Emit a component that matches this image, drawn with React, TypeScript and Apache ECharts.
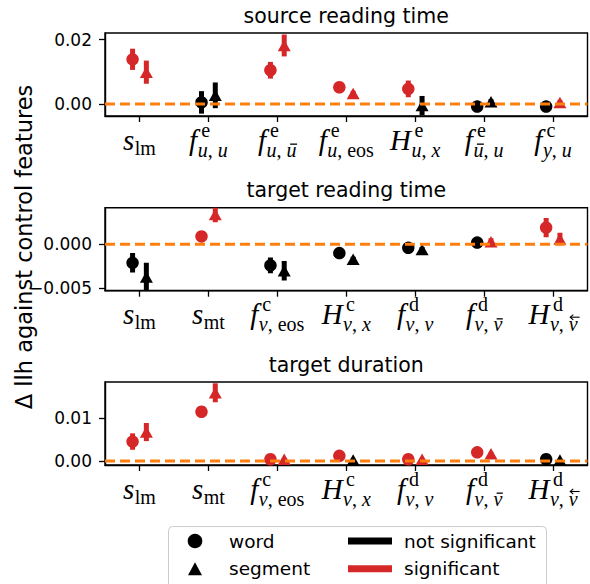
import React, { useEffect, useRef } from "react";
import * as echarts from "echarts";

// ---------- data ----------
const panelTitles = ["source reading time", "target reading time", "target duration"];

// category labels: [main symbol, superscript, subscript]
const srcCats = [
  ["s", "", "lm"],
  ["f", "e", "u, u"],
  ["f", "e", "u, u\u0304"],
  ["f", "e", "u, eos"],
  ["H", "e", "u, x"],
  ["f", "e", "u\u0304, u"],
  ["f", "c", "y, u"],
];
const tgtCats = [
  ["s", "", "lm"],
  ["s", "", "mt"],
  ["f", "c", "v, eos"],
  ["H", "c", "v, x"],
  ["f", "d", "v, v"],
  ["f", "d", "v, v\u0304"],
  ["H", "d", "v, v\u20D6"],
];

// source reading time
const srcWordVal = [0.0139, 0.0005, 0.0105, 0.0052, 0.0047, -0.0008, -0.0008];
const srcWordErr = [0.0033, 0.0035, 0.0026, 0.0010, 0.0026, 0.0007, 0.0006];
const srcWordSig = [1, 0, 1, 1, 1, 0, 0];
const srcSegVal = [0.0099, 0.0027, 0.0182, 0.0033, -0.0005, 0.0007, 0.0005];
const srcSegErr = [0.0036, 0.0040, 0.0034, 0.0008, 0.0030, 0.0008, 0.0007];
const srcSegSig = [1, 0, 1, 1, 0, 0, 1];

// target reading time
const trtWordVal = [-0.0021, 0.0009, -0.0024, -0.0010, -0.0004, 0.0002, 0.0019];
const trtWordErr = [0.0011, 0.0003, 0.0009, 0.0003, 0.0003, 0.0003, 0.0011];
const trtWordSig = [0, 1, 0, 0, 0, 0, 1];
const trtSegVal = [-0.0037, 0.0034, -0.0030, -0.0017, -0.0006, 0.0003, 0.0006];
const trtSegErr = [0.0016, 0.0009, 0.0011, 0.0003, 0.0003, 0.0004, 0.0007];
const trtSegSig = [0, 1, 0, 0, 0, 1, 1];

// target duration
const tdWordVal = [0.0045, 0.0114, 0.0004, 0.0012, 0.0004, 0.0020, 0.0004];
const tdWordErr = [0.0019, 0.0006, 0.0003, 0.0003, 0.0003, 0.0004, 0.0003];
const tdWordSig = [1, 1, 1, 1, 1, 1, 0];
const tdSegVal = [0.0067, 0.0158, 0.0004, 0.0002, 0.0004, 0.0017, 0.0002];
const tdSegErr = [0.0021, 0.0022, 0.0003, 0.0003, 0.0003, 0.0003, 0.0003];
const tdSegSig = [1, 1, 1, 0, 1, 1, 0];

const yTicks = [[0, 0.02], [-0.005, 0], [0, 0.01]];
const yTickLabels = [["0.00", "0.02"], ["\u22120.005", "0.000"], ["0.00", "0.01"]];
const yLimits = [[-0.00373, 0.02208], [-0.00527, 0.00416], [-0.00093, 0.0183]];

const legendMarkers = ["word", "segment"];
const legendColors = ["not significant", "significant"];

// ---------- style ----------
const RED = "#d62728";
const BLACK = "#000000";
const ORANGE = "#ff7f0e";
const SANS = '"DejaVu Sans"';
const SERIF = '"Liberation Serif"';
const GRID_LEFT = 105;
const GRID_W = 482.5;
const GRID_H = 83;
const GRID_TOPS = [33, 207.7, 382];
const OFF = 0.1;
const MAIN_FS = 29;
const SCRIPT_FS = 20;
const LABEL_BASE = 33.5;

let measureCtx: CanvasRenderingContext2D | null = null;
function tw(t: string, fs: number, italic: boolean, family = SERIF) {
  if (!measureCtx) measureCtx = document.createElement("canvas").getContext("2d");
  measureCtx!.font = `${italic ? "italic " : ""}${fs}px ${family}`;
  return measureCtx!.measureText(t).width;
}

function txt(t: string, x: number, baseline: number, fs: number, italic: boolean, lh: number) {
  return {
    type: "text",
    x,
    y: baseline - 0.34 * fs,
    style: {
      text: t,
      fill: BLACK,
      fontSize: fs,
      lineHeight: lh,
      fontFamily: SERIF,
      fontStyle: italic ? "italic" : "normal",
      align: "left",
      verticalAlign: "middle",
    },
  };
}

function parseSub(s: string) {
  const segs: any[] = [];
  const chars = Array.from(s);
  let k = 0;
  let roman = "";
  const flush = () => {
    if (roman) {
      segs.push({ t: roman, it: false, w: tw(roman, SCRIPT_FS, false) });
      roman = "";
    }
  };
  while (k < chars.length) {
    const c = chars[k];
    if ("uvxy".includes(c)) {
      flush();
      const seg: any = { t: c, it: true, w: tw(c, SCRIPT_FS, true) };
      if (chars[k + 1] === "\u0304") { seg.bar = true; k++; }
      else if (chars[k + 1] === "\u20D6") { seg.arrow = true; k++; }
      segs.push(seg);
    } else {
      roman += c;
    }
    k++;
  }
  flush();
  return segs;
}

function makeLabelRenderer(cats: string[][]) {
  return (params: any, api: any) => {
    const i = api.value(0);
    const [main, sup, sub] = cats[i];
    const cx = api.coord([i, 0])[0];
    const cs = params.coordSys;
    const base = cs.y + cs.height + LABEL_BASE;
    const mainW = tw(main, MAIN_FS, true);
    const segs = parseSub(sub);
    const subW = segs.reduce((a: number, g: any) => a + g.w, 0);
    const supW = sup ? tw(sup, SCRIPT_FS, false) : 0;
    const supDx = main === "f" ? 4 : 3.5;
    const subDx = 0.5;
    const scriptW = Math.max(subW + subDx, sup ? supW + supDx : 0);
    const x0 = cx - (mainW + scriptW) / 2;
    const children: any[] = [txt(main, x0, base, MAIN_FS, true, 22)];
    const sx = x0 + mainW;
    if (sup) children.push(txt(sup, sx + supDx, base - 13, SCRIPT_FS, false, 13));
    const sb = base + (sup ? 7 : 5);
    let x = sx + subDx;
    for (const g of segs) {
      children.push(txt(g.t, x, sb, SCRIPT_FS, g.it, 13));
      if (g.bar) {
        children.push({
          type: "rect",
          shape: { x: x + 0.25 * g.w + 1, y: sb - 13, width: 0.7 * g.w, height: 1.3 },
          style: { fill: BLACK },
        });
      }
      if (g.arrow) {
        const ay = sb - 14;
        const ax1 = x + 1.5;
        const ax2 = x + g.w + 2;
        children.push({
          type: "line", shape: { x1: ax1, y1: ay, x2: ax2, y2: ay },
          style: { stroke: BLACK, lineWidth: 1.1 },
        });
        children.push({
          type: "polyline", shape: { points: [[ax1 + 3, ay - 2.6], [ax1, ay], [ax1 + 3, ay + 2.6]] },
          style: { stroke: BLACK, lineWidth: 1.1, fill: "none" },
        });
      }
      x += g.w;
    }
    return { type: "group", children };
  };
}

function errRenderer(params: any, api: any) {
  const x = api.value(0);
  const p1 = api.coord([x, api.value(1)]);
  const p2 = api.coord([x, api.value(2)]);
  return {
    type: "line",
    shape: { x1: p1[0], y1: p1[1], x2: p2[0], y2: p2[1] },
    style: { stroke: api.value(3) ? RED : BLACK, lineWidth: 5 },
  };
}

const panels = [
  { cats: srcCats, wv: srcWordVal, we: srcWordErr, ws: srcWordSig, sv: srcSegVal, se: srcSegErr, ss: srcSegSig },
  { cats: tgtCats, wv: trtWordVal, we: trtWordErr, ws: trtWordSig, sv: trtSegVal, se: trtSegErr, ss: trtSegSig },
  { cats: tgtCats, wv: tdWordVal, we: tdWordErr, ws: tdWordSig, sv: tdSegVal, se: tdSegErr, ss: tdSegSig },
];

function buildOption() {
  const grid: any[] = [];
  const xAxis: any[] = [];
  const yAxis: any[] = [];
  const series: any[] = [];
  const graphic: any[] = [];

  panels.forEach((p, g) => {
    grid.push({
      left: GRID_LEFT, top: GRID_TOPS[g], width: GRID_W, height: GRID_H,
      show: true, borderColor: BLACK, borderWidth: 1.4, backgroundColor: "transparent",
    });
    xAxis.push({
      type: "category", gridIndex: g, data: p.cats.map((c) => c.join("|")), boundaryGap: true,
      position: "bottom",
      axisLine: { show: true, onZero: false, lineStyle: { color: BLACK, width: 1.4 } },
      axisTick: { show: true, alignWithLabel: true, interval: 0, length: 6, lineStyle: { color: BLACK, width: 1.3 } },
      axisLabel: { show: false }, splitLine: { show: false },
    });
    xAxis.push({
      type: "value", gridIndex: g, min: -0.5, max: 6.5, show: false, position: "bottom",
      axisLine: { onZero: false }, splitLine: { show: false },
    });
    yAxis.push({
      type: "value", gridIndex: g, min: yLimits[g][0], max: yLimits[g][1], position: "left",
      axisLine: { show: true, onZero: false, lineStyle: { color: BLACK, width: 1.4 } },
      axisTick: { show: true, length: 6, customValues: yTicks[g], lineStyle: { color: BLACK, width: 1.3 } },
      axisLabel: {
        show: true, customValues: yTicks[g], margin: 13, color: BLACK, fontSize: 17, fontFamily: SANS,
        formatter: (v: number) => {
          const idx = yTicks[g].findIndex((t) => Math.abs(t - v) < 1e-9);
          return idx >= 0 ? yTickLabels[g][idx] : "";
        },
      },
      splitLine: { show: false },
    });
    const xi = 2 * g + 1;
    const mk = (vals: number[], errs: number[], sig: number[], off: number) =>
      vals.map((v, i) => [i + off, v - errs[i], v + errs[i], sig[i]]);
    series.push({
      type: "custom", xAxisIndex: xi, yAxisIndex: g, renderItem: errRenderer, clip: true, z: 2,
      encode: { x: 0, y: [1, 2] }, data: mk(p.wv, p.we, p.ws, -OFF), silent: true,
    });
    series.push({
      type: "scatter", xAxisIndex: xi, yAxisIndex: g, symbol: "circle", symbolSize: 12.5, z: 3, silent: true,
      itemStyle: { opacity: 1 },
      data: p.wv.map((v, i) => ({ value: [i - OFF, v], itemStyle: { color: p.ws[i] ? RED : BLACK, opacity: 1 } })),
    });
    series.push({
      type: "custom", xAxisIndex: xi, yAxisIndex: g, renderItem: errRenderer, clip: true, z: 2,
      encode: { x: 0, y: [1, 2] }, data: mk(p.sv, p.se, p.ss, OFF), silent: true,
    });
    series.push({
      type: "scatter", xAxisIndex: xi, yAxisIndex: g, symbol: "triangle", symbolSize: [13, 11.5], z: 3, silent: true,
      itemStyle: { opacity: 1 },
      data: p.sv.map((v, i) => ({ value: [i + OFF, v], itemStyle: { color: p.ss[i] ? RED : BLACK, opacity: 1 } })),
    });
    series.push({
      type: "line", xAxisIndex: xi, yAxisIndex: g, data: [[-0.5, 0], [6.5, 0]], symbol: "none", z: 4, silent: true,
      lineStyle: { color: ORANGE, width: 3, type: [10, 5] },
    });
    series.push({
      type: "custom", xAxisIndex: xi, yAxisIndex: g, renderItem: makeLabelRenderer(p.cats), clip: false, z: 5,
      silent: true, data: p.cats.map((_, i) => [i, 0]),
    });
    graphic.push({
      type: "text", x: GRID_LEFT + GRID_W / 2, y: GRID_TOPS[g] - 10.5 - 0.34 * 20.5,
      style: { text: panelTitles[g], fill: BLACK, fontSize: 20.5, fontFamily: SANS, align: "center", verticalAlign: "middle" },
    });
  });

  // y axis title
  graphic.push({
    type: "text", x: 24, y: 247, rotation: Math.PI / 2,
    style: {
      text: "\u0394 llh against control features", fill: BLACK, fontSize: 22.5, fontFamily: SANS,
      align: "center", verticalAlign: "middle",
    },
  });

  // legend
  const LFS = 18.5;
  const rows = [541, 568.8];
  graphic.push({
    type: "rect", shape: { x: 168.5, y: 526.5, width: 378, height: 70, r: 4 },
    style: { fill: "rgba(255,255,255,0.8)", stroke: "#cccccc", lineWidth: 1 }, z: 10,
  });
  graphic.push({ type: "circle", shape: { cx: 195, cy: rows[0], r: 7.3 }, style: { fill: BLACK }, z: 11 });
  graphic.push({
    type: "polygon", shape: { points: [[188, rows[1] + 6.5], [202, rows[1] + 6.5], [195, rows[1] - 6.5]] },
    style: { fill: BLACK }, z: 11,
  });
  graphic.push({ type: "line", shape: { x1: 348, y1: rows[0], x2: 392, y2: rows[0] }, style: { stroke: BLACK, lineWidth: 7 }, z: 11 });
  graphic.push({ type: "line", shape: { x1: 348, y1: rows[1], x2: 392, y2: rows[1] }, style: { stroke: RED, lineWidth: 7 }, z: 11 });
  legendMarkers.forEach((t, r) =>
    graphic.push({ type: "text", x: 229, y: rows[r], style: { text: t, fill: BLACK, fontSize: LFS, fontFamily: SANS, align: "left", verticalAlign: "middle" }, z: 11 })
  );
  legendColors.forEach((t, r) =>
    graphic.push({ type: "text", x: 404, y: rows[r], style: { text: t, fill: BLACK, fontSize: LFS, fontFamily: SANS, align: "left", verticalAlign: "middle" }, z: 11 })
  );

  return { animation: false, backgroundColor: "#ffffff", grid, xAxis, yAxis, series, graphic };
}

export default function App() {
  const ref = useRef<HTMLDivElement>(null);
  useEffect(() => {
    if (!ref.current) return;
    const chart = echarts.init(ref.current, undefined, { renderer: "svg" });
    chart.setOption(buildOption() as any);
    return () => chart.dispose();
  }, []);
  return <div ref={ref} style={{ position: "absolute", left: 0, top: 0, width: 590, height: 584 }} />;
}
